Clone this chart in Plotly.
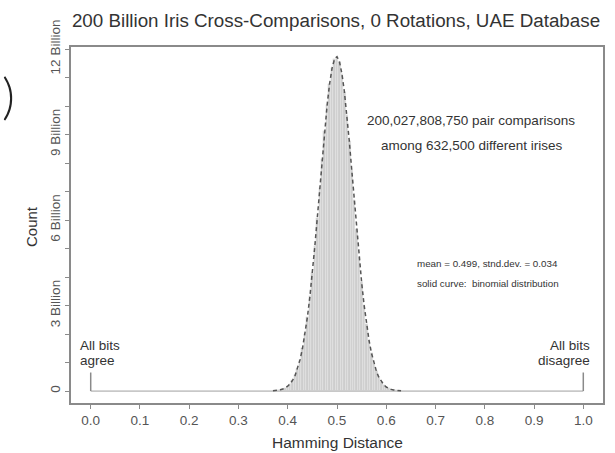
import plotly.graph_objects as go

# ---- data ----
hd_bins = [0.370, 0.375, 0.380, 0.385, 0.390, 0.395, 0.400, 0.405, 0.410, 0.415,
           0.420, 0.425, 0.430, 0.435, 0.440, 0.445, 0.450, 0.455, 0.460, 0.465,
           0.470, 0.475, 0.480, 0.485, 0.490, 0.495, 0.500, 0.505, 0.510, 0.515,
           0.520, 0.525, 0.530, 0.535, 0.540, 0.545, 0.550, 0.555, 0.560, 0.565,
           0.570, 0.575, 0.580, 0.585, 0.590, 0.595, 0.600, 0.605, 0.610, 0.615,
           0.620, 0.625, 0.630]
counts_billion = [0.01, 0.015, 0.026, 0.043, 0.069, 0.11, 0.17, 0.26, 0.38, 0.55,
                  0.79, 1.10, 1.50, 1.99, 2.60, 3.32, 4.15, 5.08, 6.08, 7.12,
                  8.15, 9.14, 10.04, 10.78, 11.33, 11.65, 11.73, 11.55, 11.13, 10.50,
                  9.69, 8.76, 7.74, 6.70, 5.67, 4.70, 3.81, 3.02, 2.35, 1.78,
                  1.33, 0.96, 0.69, 0.48, 0.33, 0.22, 0.14, 0.09, 0.057, 0.035,
                  0.021, 0.012, 0.007]
binomial_curve = counts_billion
baseline_x = [0.0, 1.0]
baseline_y = [0.0, 0.0]
marker_height = 0.65
y_tick_vals = list(range(0, 13))
y_tick_text = ["0", "", "", "3 Billion", "", "", "6 Billion", "", "",
               "9 Billion", "", "", "12 Billion"]
x_tick_vals = [0.0, 0.1, 0.2, 0.3, 0.4, 0.5, 0.6, 0.7, 0.8, 0.9, 1.0]
x_tick_text = ["0.0", "0.1", "0.2", "0.3", "0.4", "0.5", "0.6", "0.7", "0.8", "0.9", "1.0"]

FONT = "Liberation Sans, Arial, sans-serif"
AX = "#8a8a8a"

fig = go.Figure()
fig.add_trace(go.Bar(x=hd_bins, y=counts_billion, width=0.005,
                     marker=dict(color="#cdcdcd", line=dict(color="#ededed", width=0.4)),
                     hoverinfo="skip", showlegend=False))
fig.add_trace(go.Scatter(x=baseline_x, y=baseline_y, mode="lines", hoverinfo="skip",
                         line=dict(color="#c8c8c8", width=1.8), showlegend=False))
for bx in baseline_x:
    fig.add_trace(go.Scatter(x=[bx, bx], y=[0, marker_height], mode="lines", hoverinfo="skip",
                             line=dict(color="#8a8a8a", width=1.5), showlegend=False))
fig.add_trace(go.Scatter(x=hd_bins, y=binomial_curve, mode="lines", hoverinfo="skip",
                         line=dict(color="#555555", width=1.5, dash="4px,3px"),
                         showlegend=False))

W, H = 615, 453
L, R, T, B = 71, 12, 47, 50
pw, ph = W - L - R, H - T - B


def px(x):
    return (x - L) / pw


def py(y):
    return (H - B - y) / ph


ann = []


def add(text, x, y, size, xanchor="center", color="#333333", angle=0,
        yanchor="middle", family=FONT, weight="normal"):
    ann.append(dict(text=text, x=px(x), y=py(y), xref="paper", yref="paper",
                    xanchor=xanchor, yanchor=yanchor, showarrow=False, textangle=angle,
                    font=dict(family=family, size=size, color=color, weight=weight)))


add("200,027,808,750 pair comparisons", 471, 120, 13.5)
add("among 632,500 different irises", 472, 145, 13.5)
add("mean = 0.499, stnd.dev. = 0.034", 415, 263, 9.8, xanchor="left")
add("solid curve:  binomial distribution", 415, 283, 9.8, xanchor="left")
add("All bits", 78, 345, 13.5, xanchor="left")
add("agree", 78, 360, 13.5, xanchor="left")
add("All bits", 592, 345, 13.5, xanchor="right")
add("disagree", 592, 360, 13.5, xanchor="right")
add("Count", 31, 227, 15, angle=-90)
add("Hamming Distance", 337, 442, 15.5)
add(")", 0, 95, 50, xanchor="left", color="#222222", family="Lato, DejaVu Sans, sans-serif",
    weight=300)

fig.update_layout(
    width=W, height=H,
    margin=dict(l=L, r=R, t=T, b=B),
    paper_bgcolor="white", plot_bgcolor="white",
    bargap=0,
    hovermode=False,
    font=dict(family=FONT, color="#444444"),
    title=dict(text="200 Billion Iris Cross-Comparisons, 0 Rotations, UAE Database",
               x=px(336), xref="paper", xanchor="center",
               y=1 - 20 / H, yref="container", yanchor="middle",
               font=dict(family=FONT, size=18.8, color="#333333")),
    annotations=ann,
    xaxis=dict(range=[-0.04, 1.04], tickvals=x_tick_vals, ticktext=x_tick_text,
               automargin=False,
               showgrid=False, zeroline=False, showline=True, mirror=True,
               linecolor=AX, linewidth=2, ticks="outside", ticklen=4,
               tickcolor=AX, tickfont=dict(family=FONT, size=13.5, color="#555555")),
    yaxis=dict(range=[-0.42, 12.07], tickvals=y_tick_vals, ticktext=y_tick_text,
               tickangle=-90, automargin=False,
               showgrid=False, zeroline=False, showline=True, mirror=True,
               linecolor=AX, linewidth=2, ticks="outside", ticklen=4,
               tickcolor=AX, tickfont=dict(family=FONT, size=13.5, color="#555555")),
)

fig.write_html("out.html",
               config={"displayModeBar": False},
               post_script="document.body.style.margin='0';"
                           "document.body.style.overflow='hidden';")
